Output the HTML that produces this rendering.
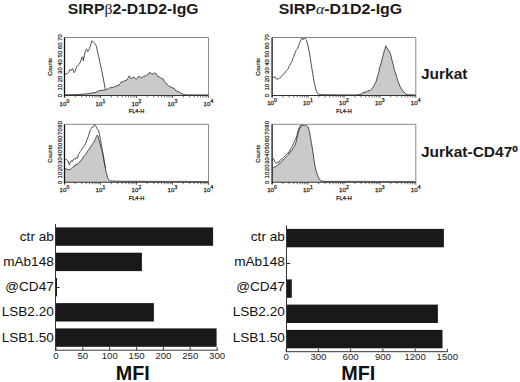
<!DOCTYPE html>
<html><head><meta charset="utf-8"><title>SIRP figure</title>
<style>
html,body{margin:0;padding:0;background:#fff;}
body{width:520px;height:382px;overflow:hidden;}
svg{display:block;}
text{font-family:"Liberation Sans",sans-serif;fill:#1a1a1a;}
.ttl{font-size:15.5px;font-weight:bold;}
.grk{font-weight:normal;}
.lab{font-size:14.5px;font-weight:bold;}
.xl{font-size:6.2px;text-anchor:middle;fill:#222;stroke:#222;stroke-width:0.25px;}
.sup{font-size:5px;}
.fl{font-size:5.6px;text-anchor:middle;fill:#222;stroke:#222;stroke-width:0.25px;}
.yl{font-size:6px;text-anchor:middle;fill:#222;stroke:#222;stroke-width:0.2px;}
.cn{font-size:5.6px;text-anchor:middle;fill:#222;stroke:#222;stroke-width:0.2px;}
.tk{font-size:9px;text-anchor:middle;fill:#222;}
.bl{font-size:12.2px;text-anchor:end;fill:#111;}
.mfi{font-size:20.6px;font-weight:bold;text-anchor:middle;fill:#111;}
</style></head>
<body>
<svg width="520" height="382" viewBox="0 0 520 382">
<text transform="translate(67.7,13.8) scale(1.02,1)" class="ttl">SIRP<tspan class="grk" font-family="Liberation Serif">&#946;</tspan>2-D1D2-IgG</text>
<text transform="translate(278.7,13.8) scale(1.029,1)" class="ttl">SIRP<tspan class="grk" font-family="Liberation Serif" font-style="italic">&#945;</tspan>-D1D2-IgG</text>
<text transform="translate(421,79.2) scale(1.07,1)" class="lab">Jurkat</text>
<text transform="translate(421,156.9) scale(1.07,1)" class="lab">Jurkat-CD47<tspan font-size="9.4px" dy="-4.6" font-weight="bold" stroke="#1a1a1a" stroke-width="0.35">0</tspan></text>
<path d="M64.6,95.5 L64.6,94.6 L65.6,94.6 L66.7,94.6 L67.7,94.6 L68.7,94.6 L69.8,94.6 L70.8,94.6 L71.8,94.6 L72.9,94.6 L73.9,94.6 L74.9,94.6 L76.0,94.6 L77.0,94.6 L78.0,94.5 L79.0,94.5 L80.0,94.4 L81.0,94.3 L82.0,94.2 L83.0,94.2 L84.0,94.1 L85.0,94.0 L86.0,94.0 L87.0,93.7 L88.0,93.9 L89.0,93.6 L90.0,93.4 L91.0,93.1 L92.0,93.0 L93.0,93.1 L94.0,92.5 L95.0,92.6 L96.0,92.3 L97.0,91.7 L98.0,91.5 L99.0,90.6 L100.0,90.3 L101.0,90.2 L102.1,90.6 L103.1,90.1 L104.2,89.8 L105.2,89.9 L106.1,89.4 L107.0,88.9 L107.8,89.2 L108.7,88.7 L109.8,87.8 L111.0,87.8 L112.1,87.3 L113.0,87.5 L113.8,87.1 L114.7,86.3 L115.6,86.9 L116.7,85.4 L117.9,85.4 L119.0,85.4 L119.9,83.7 L120.7,83.1 L121.6,81.5 L122.5,81.9 L123.3,81.6 L124.2,80.9 L125.1,81.0 L125.9,80.0 L126.8,80.1 L127.7,78.7 L128.5,77.3 L129.4,75.8 L130.2,77.5 L131.1,78.7 L132.0,77.9 L132.8,77.8 L133.7,76.8 L134.6,78.0 L135.4,78.4 L136.3,79.3 L137.2,78.3 L138.0,76.9 L138.9,76.3 L139.8,77.2 L140.6,77.0 L141.5,78.2 L142.4,77.2 L143.2,76.5 L144.1,75.9 L145.0,76.5 L145.8,75.4 L146.7,75.3 L147.6,74.7 L148.4,74.5 L149.3,72.8 L150.2,72.4 L151.1,73.2 L151.9,74.3 L152.8,74.0 L153.7,73.8 L154.5,72.9 L155.4,72.9 L156.3,74.0 L157.1,75.7 L158.0,76.9 L158.9,76.6 L159.7,77.2 L160.6,77.9 L161.8,78.3 L163.1,79.0 L164.0,80.9 L164.9,82.2 L165.8,82.8 L166.6,84.1 L167.5,84.6 L168.3,85.5 L169.2,86.5 L170.1,86.7 L170.9,86.9 L171.8,87.4 L172.7,87.9 L173.8,88.0 L175.0,89.9 L176.1,90.6 L177.0,91.3 L177.8,91.8 L178.7,91.8 L179.6,92.4 L180.7,92.9 L181.9,93.7 L183.0,94.3 L183.9,94.4 L184.8,94.5 L185.6,94.7 L186.5,94.8 L187.5,94.8 L188.5,94.8 L189.5,94.8 L190.5,94.8 L191.5,94.8 L192.4,94.8 L193.4,94.8 L194.4,94.8 L195.4,94.8 L196.4,94.8 L197.4,94.8 L198.4,94.9 L199.4,94.9 L200.4,94.9 L201.4,94.9 L202.4,94.9 L203.3,94.9 L204.3,94.9 L205.3,94.9 L206.3,94.9 L207.3,94.9 L208.3,94.9 L208.3,95.5 Z" fill="#cacaca" stroke="none"/>
<polyline points="64.6,94.6 65.6,94.6 66.7,94.6 67.7,94.6 68.7,94.6 69.8,94.6 70.8,94.6 71.8,94.6 72.9,94.6 73.9,94.6 74.9,94.6 76.0,94.6 77.0,94.6 78.0,94.5 79.0,94.5 80.0,94.4 81.0,94.3 82.0,94.2 83.0,94.2 84.0,94.1 85.0,94.0 86.0,94.0 87.0,93.7 88.0,93.9 89.0,93.6 90.0,93.4 91.0,93.1 92.0,93.0 93.0,93.1 94.0,92.5 95.0,92.6 96.0,92.3 97.0,91.7 98.0,91.5 99.0,90.6 100.0,90.3 101.0,90.2 102.1,90.6 103.1,90.1 104.2,89.8 105.2,89.9 106.1,89.4 107.0,88.9 107.8,89.2 108.7,88.7 109.8,87.8 111.0,87.8 112.1,87.3 113.0,87.5 113.8,87.1 114.7,86.3 115.6,86.9 116.7,85.4 117.9,85.4 119.0,85.4 119.9,83.7 120.7,83.1 121.6,81.5 122.5,81.9 123.3,81.6 124.2,80.9 125.1,81.0 125.9,80.0 126.8,80.1 127.7,78.7 128.5,77.3 129.4,75.8 130.2,77.5 131.1,78.7 132.0,77.9 132.8,77.8 133.7,76.8 134.6,78.0 135.4,78.4 136.3,79.3 137.2,78.3 138.0,76.9 138.9,76.3 139.8,77.2 140.6,77.0 141.5,78.2 142.4,77.2 143.2,76.5 144.1,75.9 145.0,76.5 145.8,75.4 146.7,75.3 147.6,74.7 148.4,74.5 149.3,72.8 150.2,72.4 151.1,73.2 151.9,74.3 152.8,74.0 153.7,73.8 154.5,72.9 155.4,72.9 156.3,74.0 157.1,75.7 158.0,76.9 158.9,76.6 159.7,77.2 160.6,77.9 161.8,78.3 163.1,79.0 164.0,80.9 164.9,82.2 165.8,82.8 166.6,84.1 167.5,84.6 168.3,85.5 169.2,86.5 170.1,86.7 170.9,86.9 171.8,87.4 172.7,87.9 173.8,88.0 175.0,89.9 176.1,90.6 177.0,91.3 177.8,91.8 178.7,91.8 179.6,92.4 180.7,92.9 181.9,93.7 183.0,94.3 183.9,94.4 184.8,94.5 185.6,94.7 186.5,94.8 187.5,94.8 188.5,94.8 189.5,94.8 190.5,94.8 191.5,94.8 192.4,94.8 193.4,94.8 194.4,94.8 195.4,94.8 196.4,94.8 197.4,94.8 198.4,94.9 199.4,94.9 200.4,94.9 201.4,94.9 202.4,94.9 203.3,94.9 204.3,94.9 205.3,94.9 206.3,94.9 207.3,94.9 208.3,94.9" fill="none" stroke="#3a3a3a" stroke-width="0.9"/>
<polyline points="64.6,74.5 65.2,74.1 66.3,73.6 67.4,73.7 68.5,72.6 69.6,69.9 70.4,69.7 71.2,70.5 72.1,69.0 72.9,68.8 74.0,72.7 75.1,71.4 75.9,69.0 76.7,66.3 77.6,65.9 78.4,65.1 79.2,64.4 80.0,62.7 80.8,60.6 81.7,57.6 82.8,56.9 83.3,60.9 84.4,55.1 85.5,50.5 86.6,48.8 87.7,51.6 88.6,50.4 89.4,48.7 90.2,46.5 91.0,43.8 92.1,40.7 92.9,41.5 93.8,42.6 94.6,43.2 95.4,44.2 96.5,46.7 97.6,52.2 98.7,56.6 99.6,60.8 100.4,64.9 101.2,68.1 102.0,71.8 103.4,79.0 104.3,84.0 105.3,89.5" fill="none" stroke="#3a3a3a" stroke-width="0.9"/>
<path d="M64.5,37.5 H208.5 V95.5" fill="none" stroke="#8a8a8a" stroke-width="1"/>
<line x1="64.5" y1="95.5" x2="208.5" y2="95.5" stroke="#333" stroke-width="1.1"/>
<line x1="64.5" y1="37.5" x2="64.5" y2="97.3" stroke="#111" stroke-width="1.3"/>
<line x1="75.3" y1="95.5" x2="75.3" y2="97.4" stroke="#333" stroke-width="0.7"/>
<line x1="81.7" y1="95.5" x2="81.7" y2="97.4" stroke="#333" stroke-width="0.7"/>
<line x1="86.2" y1="95.5" x2="86.2" y2="97.4" stroke="#333" stroke-width="0.7"/>
<line x1="89.7" y1="95.5" x2="89.7" y2="97.4" stroke="#333" stroke-width="0.7"/>
<line x1="92.5" y1="95.5" x2="92.5" y2="97.4" stroke="#333" stroke-width="0.7"/>
<line x1="94.9" y1="95.5" x2="94.9" y2="97.4" stroke="#333" stroke-width="0.7"/>
<line x1="97.0" y1="95.5" x2="97.0" y2="97.4" stroke="#333" stroke-width="0.7"/>
<line x1="98.9" y1="95.5" x2="98.9" y2="97.4" stroke="#333" stroke-width="0.7"/>
<line x1="111.3" y1="95.5" x2="111.3" y2="97.4" stroke="#333" stroke-width="0.7"/>
<line x1="117.7" y1="95.5" x2="117.7" y2="97.4" stroke="#333" stroke-width="0.7"/>
<line x1="122.2" y1="95.5" x2="122.2" y2="97.4" stroke="#333" stroke-width="0.7"/>
<line x1="125.7" y1="95.5" x2="125.7" y2="97.4" stroke="#333" stroke-width="0.7"/>
<line x1="128.5" y1="95.5" x2="128.5" y2="97.4" stroke="#333" stroke-width="0.7"/>
<line x1="130.9" y1="95.5" x2="130.9" y2="97.4" stroke="#333" stroke-width="0.7"/>
<line x1="133.0" y1="95.5" x2="133.0" y2="97.4" stroke="#333" stroke-width="0.7"/>
<line x1="134.9" y1="95.5" x2="134.9" y2="97.4" stroke="#333" stroke-width="0.7"/>
<line x1="147.3" y1="95.5" x2="147.3" y2="97.4" stroke="#333" stroke-width="0.7"/>
<line x1="153.7" y1="95.5" x2="153.7" y2="97.4" stroke="#333" stroke-width="0.7"/>
<line x1="158.2" y1="95.5" x2="158.2" y2="97.4" stroke="#333" stroke-width="0.7"/>
<line x1="161.7" y1="95.5" x2="161.7" y2="97.4" stroke="#333" stroke-width="0.7"/>
<line x1="164.5" y1="95.5" x2="164.5" y2="97.4" stroke="#333" stroke-width="0.7"/>
<line x1="166.9" y1="95.5" x2="166.9" y2="97.4" stroke="#333" stroke-width="0.7"/>
<line x1="169.0" y1="95.5" x2="169.0" y2="97.4" stroke="#333" stroke-width="0.7"/>
<line x1="170.9" y1="95.5" x2="170.9" y2="97.4" stroke="#333" stroke-width="0.7"/>
<line x1="183.3" y1="95.5" x2="183.3" y2="97.4" stroke="#333" stroke-width="0.7"/>
<line x1="189.7" y1="95.5" x2="189.7" y2="97.4" stroke="#333" stroke-width="0.7"/>
<line x1="194.2" y1="95.5" x2="194.2" y2="97.4" stroke="#333" stroke-width="0.7"/>
<line x1="197.7" y1="95.5" x2="197.7" y2="97.4" stroke="#333" stroke-width="0.7"/>
<line x1="200.5" y1="95.5" x2="200.5" y2="97.4" stroke="#333" stroke-width="0.7"/>
<line x1="202.9" y1="95.5" x2="202.9" y2="97.4" stroke="#333" stroke-width="0.7"/>
<line x1="205.0" y1="95.5" x2="205.0" y2="97.4" stroke="#333" stroke-width="0.7"/>
<line x1="206.9" y1="95.5" x2="206.9" y2="97.4" stroke="#333" stroke-width="0.7"/>
<line x1="64.5" y1="95.5" x2="64.5" y2="97.9" stroke="#333" stroke-width="0.8"/>
<line x1="100.5" y1="95.5" x2="100.5" y2="97.9" stroke="#333" stroke-width="0.8"/>
<line x1="136.5" y1="95.5" x2="136.5" y2="97.9" stroke="#333" stroke-width="0.8"/>
<line x1="172.5" y1="95.5" x2="172.5" y2="97.9" stroke="#333" stroke-width="0.8"/>
<line x1="208.5" y1="95.5" x2="208.5" y2="97.9" stroke="#333" stroke-width="0.8"/>
<text x="64.4" y="105.8" class="xl">10<tspan class="sup" dy="-2.9">0</tspan></text>
<text x="100.4" y="105.8" class="xl">10<tspan class="sup" dy="-2.9">1</tspan></text>
<text x="136.4" y="105.8" class="xl">10<tspan class="sup" dy="-2.9">2</tspan></text>
<text x="172.4" y="105.8" class="xl">10<tspan class="sup" dy="-2.9">3</tspan></text>
<text x="208.4" y="105.8" class="xl">10<tspan class="sup" dy="-2.9">4</tspan></text>
<text x="136.5" y="112.7" class="fl">FL4-H</text>
<text transform="translate(61.5,95.5) rotate(-90)" class="yl">0</text>
<text transform="translate(61.5,87.2) rotate(-90)" class="yl">10</text>
<text transform="translate(61.5,78.9) rotate(-90)" class="yl">20</text>
<text transform="translate(61.5,70.6) rotate(-90)" class="yl">30</text>
<text transform="translate(61.5,62.4) rotate(-90)" class="yl">40</text>
<text transform="translate(61.5,54.1) rotate(-90)" class="yl">50</text>
<text transform="translate(61.5,45.8) rotate(-90)" class="yl">60</text>
<text transform="translate(61.5,37.5) rotate(-90)" class="yl">70</text>
<text transform="translate(52.0,67.0) rotate(-90)" class="cn">Counts</text>
<path d="M340.0,95.5 L340.0,94.9 L341.0,94.9 L342.0,94.9 L343.0,94.9 L344.0,94.9 L345.0,94.9 L346.0,94.9 L347.0,94.9 L348.0,94.9 L349.0,94.9 L350.0,94.9 L351.0,94.9 L352.0,94.9 L353.0,94.9 L354.0,94.9 L355.0,94.9 L356.0,94.9 L357.0,94.9 L358.0,94.8 L359.0,94.6 L360.0,94.5 L361.0,94.1 L362.0,93.6 L363.0,92.8 L364.0,92.3 L365.1,91.9 L366.1,92.2 L367.1,91.7 L368.0,90.5 L369.0,90.9 L370.1,90.5 L371.1,89.5 L372.2,88.5 L373.2,87.2 L374.2,85.1 L375.2,83.4 L376.1,81.6 L377.0,78.2 L377.8,75.5 L378.5,73.5 L379.8,67.3 L380.6,65.1 L381.3,62.4 L382.1,59.0 L382.8,56.4 L383.6,53.6 L384.3,50.7 L385.1,48.7 L385.8,45.8 L386.6,47.5 L387.5,48.6 L388.2,50.5 L389.0,50.8 L390.4,53.6 L391.2,56.9 L392.0,60.3 L393.1,64.3 L394.2,69.4 L395.4,72.7 L396.5,76.5 L397.6,80.3 L398.8,83.4 L399.8,86.0 L400.8,87.7 L401.8,89.5 L402.8,91.4 L403.7,91.7 L404.7,92.9 L405.6,94.0 L406.8,94.4 L408.0,94.8 L408.9,94.8 L409.9,94.8 L410.8,94.8 L411.8,94.8 L412.7,94.9 L413.6,94.9 L414.6,94.9 L415.5,94.9 L415.5,95.5 Z" fill="#cacaca" stroke="none"/>
<polyline points="340.0,94.9 341.0,94.9 342.0,94.9 343.0,94.9 344.0,94.9 345.0,94.9 346.0,94.9 347.0,94.9 348.0,94.9 349.0,94.9 350.0,94.9 351.0,94.9 352.0,94.9 353.0,94.9 354.0,94.9 355.0,94.9 356.0,94.9 357.0,94.9 358.0,94.8 359.0,94.6 360.0,94.5 361.0,94.1 362.0,93.6 363.0,92.8 364.0,92.3 365.1,91.9 366.1,92.2 367.1,91.7 368.0,90.5 369.0,90.9 370.1,90.5 371.1,89.5 372.2,88.5 373.2,87.2 374.2,85.1 375.2,83.4 376.1,81.6 377.0,78.2 377.8,75.5 378.5,73.5 379.8,67.3 380.6,65.1 381.3,62.4 382.1,59.0 382.8,56.4 383.6,53.6 384.3,50.7 385.1,48.7 385.8,45.8 386.6,47.5 387.5,48.6 388.2,50.5 389.0,50.8 390.4,53.6 391.2,56.9 392.0,60.3 393.1,64.3 394.2,69.4 395.4,72.7 396.5,76.5 397.6,80.3 398.8,83.4 399.8,86.0 400.8,87.7 401.8,89.5 402.8,91.4 403.7,91.7 404.7,92.9 405.6,94.0 406.8,94.4 408.0,94.8 408.9,94.8 409.9,94.8 410.8,94.8 411.8,94.8 412.7,94.9 413.6,94.9 414.6,94.9 415.5,94.9" fill="none" stroke="#3a3a3a" stroke-width="0.9"/>
<polyline points="272.6,77.7 273.8,77.5 274.9,76.6 276.0,78.6 277.1,79.0 278.1,79.3 279.2,78.2 280.4,77.8 281.2,76.5 282.0,75.3 282.8,75.1 283.6,74.4 284.4,73.4 285.2,72.2 285.9,71.5 286.7,70.0 287.5,69.5 288.3,68.7 289.1,66.4 289.9,65.2 290.7,63.2 291.4,62.4 292.2,60.8 293.0,58.3 293.8,56.3 294.6,53.9 295.4,52.2 296.1,50.4 296.9,49.6 297.7,48.1 298.5,46.7 299.3,43.4 300.1,41.8 300.9,40.1 301.7,38.0 302.4,38.1 303.5,39.7 304.8,37.0 305.6,39.1 306.4,39.8 307.2,42.6 308.0,46.0 308.8,49.7 309.5,52.9 310.3,58.3 311.1,63.5 311.9,68.4 312.7,73.3 313.4,77.8 314.2,82.7 315.0,85.4 315.8,89.6 316.6,91.4 317.4,93.2 318.2,94.0 319.0,94.7 320.0,94.7 321.0,94.7 322.0,94.7 323.0,94.7 324.0,94.7 325.0,94.8 326.0,94.8 327.0,94.8 328.0,94.8 329.0,94.8 330.0,94.8 331.0,94.8 332.0,94.8 333.0,94.8 334.0,94.8 335.0,94.9 336.0,94.9 337.0,94.9 338.0,94.9 339.0,94.9 340.0,94.9" fill="none" stroke="#3a3a3a" stroke-width="0.9"/>
<path d="M272.1,37.5 H415.8 V95.5" fill="none" stroke="#8a8a8a" stroke-width="1"/>
<line x1="272.1" y1="95.5" x2="415.8" y2="95.5" stroke="#333" stroke-width="1.1"/>
<line x1="272.1" y1="37.5" x2="272.1" y2="97.3" stroke="#111" stroke-width="1.3"/>
<line x1="282.9" y1="95.5" x2="282.9" y2="97.4" stroke="#333" stroke-width="0.7"/>
<line x1="289.2" y1="95.5" x2="289.2" y2="97.4" stroke="#333" stroke-width="0.7"/>
<line x1="293.7" y1="95.5" x2="293.7" y2="97.4" stroke="#333" stroke-width="0.7"/>
<line x1="297.2" y1="95.5" x2="297.2" y2="97.4" stroke="#333" stroke-width="0.7"/>
<line x1="300.1" y1="95.5" x2="300.1" y2="97.4" stroke="#333" stroke-width="0.7"/>
<line x1="302.5" y1="95.5" x2="302.5" y2="97.4" stroke="#333" stroke-width="0.7"/>
<line x1="304.5" y1="95.5" x2="304.5" y2="97.4" stroke="#333" stroke-width="0.7"/>
<line x1="306.4" y1="95.5" x2="306.4" y2="97.4" stroke="#333" stroke-width="0.7"/>
<line x1="318.8" y1="95.5" x2="318.8" y2="97.4" stroke="#333" stroke-width="0.7"/>
<line x1="325.2" y1="95.5" x2="325.2" y2="97.4" stroke="#333" stroke-width="0.7"/>
<line x1="329.7" y1="95.5" x2="329.7" y2="97.4" stroke="#333" stroke-width="0.7"/>
<line x1="333.1" y1="95.5" x2="333.1" y2="97.4" stroke="#333" stroke-width="0.7"/>
<line x1="336.0" y1="95.5" x2="336.0" y2="97.4" stroke="#333" stroke-width="0.7"/>
<line x1="338.4" y1="95.5" x2="338.4" y2="97.4" stroke="#333" stroke-width="0.7"/>
<line x1="340.5" y1="95.5" x2="340.5" y2="97.4" stroke="#333" stroke-width="0.7"/>
<line x1="342.3" y1="95.5" x2="342.3" y2="97.4" stroke="#333" stroke-width="0.7"/>
<line x1="354.8" y1="95.5" x2="354.8" y2="97.4" stroke="#333" stroke-width="0.7"/>
<line x1="361.1" y1="95.5" x2="361.1" y2="97.4" stroke="#333" stroke-width="0.7"/>
<line x1="365.6" y1="95.5" x2="365.6" y2="97.4" stroke="#333" stroke-width="0.7"/>
<line x1="369.1" y1="95.5" x2="369.1" y2="97.4" stroke="#333" stroke-width="0.7"/>
<line x1="371.9" y1="95.5" x2="371.9" y2="97.4" stroke="#333" stroke-width="0.7"/>
<line x1="374.3" y1="95.5" x2="374.3" y2="97.4" stroke="#333" stroke-width="0.7"/>
<line x1="376.4" y1="95.5" x2="376.4" y2="97.4" stroke="#333" stroke-width="0.7"/>
<line x1="378.2" y1="95.5" x2="378.2" y2="97.4" stroke="#333" stroke-width="0.7"/>
<line x1="390.7" y1="95.5" x2="390.7" y2="97.4" stroke="#333" stroke-width="0.7"/>
<line x1="397.0" y1="95.5" x2="397.0" y2="97.4" stroke="#333" stroke-width="0.7"/>
<line x1="401.5" y1="95.5" x2="401.5" y2="97.4" stroke="#333" stroke-width="0.7"/>
<line x1="405.0" y1="95.5" x2="405.0" y2="97.4" stroke="#333" stroke-width="0.7"/>
<line x1="407.8" y1="95.5" x2="407.8" y2="97.4" stroke="#333" stroke-width="0.7"/>
<line x1="410.2" y1="95.5" x2="410.2" y2="97.4" stroke="#333" stroke-width="0.7"/>
<line x1="412.3" y1="95.5" x2="412.3" y2="97.4" stroke="#333" stroke-width="0.7"/>
<line x1="414.2" y1="95.5" x2="414.2" y2="97.4" stroke="#333" stroke-width="0.7"/>
<line x1="272.1" y1="95.5" x2="272.1" y2="97.9" stroke="#333" stroke-width="0.8"/>
<line x1="308.0" y1="95.5" x2="308.0" y2="97.9" stroke="#333" stroke-width="0.8"/>
<line x1="344.0" y1="95.5" x2="344.0" y2="97.9" stroke="#333" stroke-width="0.8"/>
<line x1="379.9" y1="95.5" x2="379.9" y2="97.9" stroke="#333" stroke-width="0.8"/>
<line x1="415.8" y1="95.5" x2="415.8" y2="97.9" stroke="#333" stroke-width="0.8"/>
<text x="272.0" y="104.9" class="xl">10<tspan class="sup" dy="-2.9">0</tspan></text>
<text x="307.9" y="104.9" class="xl">10<tspan class="sup" dy="-2.9">1</tspan></text>
<text x="343.9" y="104.9" class="xl">10<tspan class="sup" dy="-2.9">2</tspan></text>
<text x="379.8" y="104.9" class="xl">10<tspan class="sup" dy="-2.9">3</tspan></text>
<text x="415.7" y="104.9" class="xl">10<tspan class="sup" dy="-2.9">4</tspan></text>
<text x="344.0" y="112.7" class="fl">FL4-H</text>
<text transform="translate(269.1,95.5) rotate(-90)" class="yl">0</text>
<text transform="translate(269.1,87.2) rotate(-90)" class="yl">10</text>
<text transform="translate(269.1,78.9) rotate(-90)" class="yl">20</text>
<text transform="translate(269.1,70.6) rotate(-90)" class="yl">30</text>
<text transform="translate(269.1,62.4) rotate(-90)" class="yl">40</text>
<text transform="translate(269.1,54.1) rotate(-90)" class="yl">50</text>
<text transform="translate(269.1,45.8) rotate(-90)" class="yl">60</text>
<text transform="translate(269.1,37.5) rotate(-90)" class="yl">70</text>
<text transform="translate(259.6,67.0) rotate(-90)" class="cn">Counts</text>
<path d="M65.2,182.3 L65.2,168.5 L66.2,168.5 L67.2,169.8 L68.0,169.7 L68.7,169.4 L70.1,169.7 L71.5,168.3 L72.9,167.5 L74.3,165.5 L75.2,165.7 L76.1,164.1 L77.5,164.3 L78.9,162.7 L80.3,161.3 L81.3,160.1 L82.3,159.0 L83.4,157.0 L84.6,155.6 L85.8,154.3 L87.0,152.2 L88.2,150.4 L89.3,148.9 L90.3,147.3 L91.3,145.9 L92.1,144.6 L92.9,143.2 L93.8,142.3 L94.8,140.3 L95.6,138.7 L96.4,136.4 L97.2,135.1 L98.0,135.9 L98.9,139.6 L99.9,143.3 L100.7,146.6 L101.4,148.9 L102.2,151.4 L102.9,154.8 L104.2,162.0 L105.1,165.8 L105.9,171.4 L106.8,174.3 L107.6,177.8 L108.8,179.6 L110.1,180.9 L111.1,180.9 L112.1,181.0 L113.1,181.1 L114.1,181.0 L115.0,181.1 L116.0,181.2 L117.0,181.2 L118.0,181.2 L119.0,181.3 L120.0,181.3 L121.0,181.3 L122.0,181.3 L123.0,181.3 L124.0,181.3 L125.0,181.3 L126.0,181.3 L127.0,181.3 L128.0,181.3 L129.0,181.3 L130.0,181.3 L131.0,181.3 L132.0,181.3 L133.0,181.3 L134.0,181.3 L135.1,181.3 L136.1,181.3 L137.1,181.3 L138.1,181.3 L139.1,181.3 L140.1,181.3 L141.1,181.3 L142.1,181.4 L143.1,181.4 L144.1,181.4 L145.1,181.4 L146.1,181.4 L147.1,181.4 L148.1,181.4 L149.1,181.4 L150.1,181.4 L151.1,181.4 L152.1,181.4 L153.1,181.4 L154.1,181.4 L155.1,181.4 L156.1,181.4 L157.1,181.4 L158.1,181.4 L159.1,181.4 L160.1,181.4 L161.1,181.4 L162.1,181.4 L163.1,181.4 L164.2,181.4 L165.2,181.4 L166.2,181.4 L167.2,181.4 L168.2,181.4 L169.2,181.4 L170.2,181.4 L171.2,181.4 L172.2,181.4 L173.2,181.4 L174.2,181.4 L175.2,181.4 L176.2,181.4 L177.2,181.4 L178.2,181.4 L179.2,181.4 L180.2,181.4 L181.2,181.4 L182.2,181.4 L183.2,181.4 L184.2,181.4 L185.2,181.4 L186.2,181.4 L187.2,181.5 L188.2,181.5 L189.2,181.5 L190.2,181.5 L191.2,181.5 L192.2,181.5 L193.2,181.5 L194.3,181.5 L195.3,181.5 L196.3,181.5 L197.3,181.5 L198.3,181.5 L199.3,181.5 L200.3,181.5 L201.3,181.5 L202.3,181.5 L203.3,181.5 L204.3,181.5 L205.3,181.5 L206.3,181.5 L207.3,181.5 L208.3,181.5 L208.3,182.3 Z" fill="#cacaca" stroke="none"/>
<polyline points="65.2,168.5 66.2,168.5 67.2,169.8 68.0,169.7 68.7,169.4 70.1,169.7 71.5,168.3 72.9,167.5 74.3,165.5 75.2,165.7 76.1,164.1 77.5,164.3 78.9,162.7 80.3,161.3 81.3,160.1 82.3,159.0 83.4,157.0 84.6,155.6 85.8,154.3 87.0,152.2 88.2,150.4 89.3,148.9 90.3,147.3 91.3,145.9 92.1,144.6 92.9,143.2 93.8,142.3 94.8,140.3 95.6,138.7 96.4,136.4 97.2,135.1 98.0,135.9 98.9,139.6 99.9,143.3 100.7,146.6 101.4,148.9 102.2,151.4 102.9,154.8 104.2,162.0 105.1,165.8 105.9,171.4 106.8,174.3 107.6,177.8 108.8,179.6 110.1,180.9 111.1,180.9 112.1,181.0 113.1,181.1 114.1,181.0 115.0,181.1 116.0,181.2 117.0,181.2 118.0,181.2 119.0,181.3 120.0,181.3 121.0,181.3 122.0,181.3 123.0,181.3 124.0,181.3 125.0,181.3 126.0,181.3 127.0,181.3 128.0,181.3 129.0,181.3 130.0,181.3 131.0,181.3 132.0,181.3 133.0,181.3 134.0,181.3 135.1,181.3 136.1,181.3 137.1,181.3 138.1,181.3 139.1,181.3 140.1,181.3 141.1,181.3 142.1,181.4 143.1,181.4 144.1,181.4 145.1,181.4 146.1,181.4 147.1,181.4 148.1,181.4 149.1,181.4 150.1,181.4 151.1,181.4 152.1,181.4 153.1,181.4 154.1,181.4 155.1,181.4 156.1,181.4 157.1,181.4 158.1,181.4 159.1,181.4 160.1,181.4 161.1,181.4 162.1,181.4 163.1,181.4 164.2,181.4 165.2,181.4 166.2,181.4 167.2,181.4 168.2,181.4 169.2,181.4 170.2,181.4 171.2,181.4 172.2,181.4 173.2,181.4 174.2,181.4 175.2,181.4 176.2,181.4 177.2,181.4 178.2,181.4 179.2,181.4 180.2,181.4 181.2,181.4 182.2,181.4 183.2,181.4 184.2,181.4 185.2,181.4 186.2,181.4 187.2,181.5 188.2,181.5 189.2,181.5 190.2,181.5 191.2,181.5 192.2,181.5 193.2,181.5 194.3,181.5 195.3,181.5 196.3,181.5 197.3,181.5 198.3,181.5 199.3,181.5 200.3,181.5 201.3,181.5 202.3,181.5 203.3,181.5 204.3,181.5 205.3,181.5 206.3,181.5 207.3,181.5 208.3,181.5" fill="none" stroke="#3a3a3a" stroke-width="0.9"/>
<polyline points="65.2,159.7 66.5,159.6 67.6,160.7 68.7,163.1 69.5,164.9 70.4,161.8 71.3,160.6 72.2,161.8 73.2,159.9 74.3,158.5 75.4,159.4 76.4,157.4 77.1,158.1 77.8,157.8 78.4,154.3 79.3,153.3 80.3,151.3 81.3,150.4 82.3,148.5 83.0,147.4 83.8,146.5 84.6,145.4 85.4,143.8 86.2,141.9 87.0,139.4 87.8,137.8 88.5,135.8 89.4,132.9 90.4,129.5 91.4,128.5 92.2,127.1 92.9,127.6 93.7,126.3 94.4,123.9 95.2,125.2 95.9,126.4 96.7,128.1 97.4,128.9 98.4,130.7 99.4,133.6 100.4,139.4 101.4,144.6 102.4,150.9 103.4,155.4 104.2,161.5 105.3,167.5" fill="none" stroke="#3a3a3a" stroke-width="0.9"/>
<path d="M64.5,124.3 H208.5 V182.3" fill="none" stroke="#8a8a8a" stroke-width="1"/>
<line x1="64.5" y1="182.3" x2="208.5" y2="182.3" stroke="#333" stroke-width="1.1"/>
<line x1="64.5" y1="124.3" x2="64.5" y2="184.1" stroke="#111" stroke-width="1.3"/>
<line x1="75.3" y1="182.3" x2="75.3" y2="184.2" stroke="#333" stroke-width="0.7"/>
<line x1="81.7" y1="182.3" x2="81.7" y2="184.2" stroke="#333" stroke-width="0.7"/>
<line x1="86.2" y1="182.3" x2="86.2" y2="184.2" stroke="#333" stroke-width="0.7"/>
<line x1="89.7" y1="182.3" x2="89.7" y2="184.2" stroke="#333" stroke-width="0.7"/>
<line x1="92.5" y1="182.3" x2="92.5" y2="184.2" stroke="#333" stroke-width="0.7"/>
<line x1="94.9" y1="182.3" x2="94.9" y2="184.2" stroke="#333" stroke-width="0.7"/>
<line x1="97.0" y1="182.3" x2="97.0" y2="184.2" stroke="#333" stroke-width="0.7"/>
<line x1="98.9" y1="182.3" x2="98.9" y2="184.2" stroke="#333" stroke-width="0.7"/>
<line x1="111.3" y1="182.3" x2="111.3" y2="184.2" stroke="#333" stroke-width="0.7"/>
<line x1="117.7" y1="182.3" x2="117.7" y2="184.2" stroke="#333" stroke-width="0.7"/>
<line x1="122.2" y1="182.3" x2="122.2" y2="184.2" stroke="#333" stroke-width="0.7"/>
<line x1="125.7" y1="182.3" x2="125.7" y2="184.2" stroke="#333" stroke-width="0.7"/>
<line x1="128.5" y1="182.3" x2="128.5" y2="184.2" stroke="#333" stroke-width="0.7"/>
<line x1="130.9" y1="182.3" x2="130.9" y2="184.2" stroke="#333" stroke-width="0.7"/>
<line x1="133.0" y1="182.3" x2="133.0" y2="184.2" stroke="#333" stroke-width="0.7"/>
<line x1="134.9" y1="182.3" x2="134.9" y2="184.2" stroke="#333" stroke-width="0.7"/>
<line x1="147.3" y1="182.3" x2="147.3" y2="184.2" stroke="#333" stroke-width="0.7"/>
<line x1="153.7" y1="182.3" x2="153.7" y2="184.2" stroke="#333" stroke-width="0.7"/>
<line x1="158.2" y1="182.3" x2="158.2" y2="184.2" stroke="#333" stroke-width="0.7"/>
<line x1="161.7" y1="182.3" x2="161.7" y2="184.2" stroke="#333" stroke-width="0.7"/>
<line x1="164.5" y1="182.3" x2="164.5" y2="184.2" stroke="#333" stroke-width="0.7"/>
<line x1="166.9" y1="182.3" x2="166.9" y2="184.2" stroke="#333" stroke-width="0.7"/>
<line x1="169.0" y1="182.3" x2="169.0" y2="184.2" stroke="#333" stroke-width="0.7"/>
<line x1="170.9" y1="182.3" x2="170.9" y2="184.2" stroke="#333" stroke-width="0.7"/>
<line x1="183.3" y1="182.3" x2="183.3" y2="184.2" stroke="#333" stroke-width="0.7"/>
<line x1="189.7" y1="182.3" x2="189.7" y2="184.2" stroke="#333" stroke-width="0.7"/>
<line x1="194.2" y1="182.3" x2="194.2" y2="184.2" stroke="#333" stroke-width="0.7"/>
<line x1="197.7" y1="182.3" x2="197.7" y2="184.2" stroke="#333" stroke-width="0.7"/>
<line x1="200.5" y1="182.3" x2="200.5" y2="184.2" stroke="#333" stroke-width="0.7"/>
<line x1="202.9" y1="182.3" x2="202.9" y2="184.2" stroke="#333" stroke-width="0.7"/>
<line x1="205.0" y1="182.3" x2="205.0" y2="184.2" stroke="#333" stroke-width="0.7"/>
<line x1="206.9" y1="182.3" x2="206.9" y2="184.2" stroke="#333" stroke-width="0.7"/>
<line x1="64.5" y1="182.3" x2="64.5" y2="184.7" stroke="#333" stroke-width="0.8"/>
<line x1="100.5" y1="182.3" x2="100.5" y2="184.7" stroke="#333" stroke-width="0.8"/>
<line x1="136.5" y1="182.3" x2="136.5" y2="184.7" stroke="#333" stroke-width="0.8"/>
<line x1="172.5" y1="182.3" x2="172.5" y2="184.7" stroke="#333" stroke-width="0.8"/>
<line x1="208.5" y1="182.3" x2="208.5" y2="184.7" stroke="#333" stroke-width="0.8"/>
<text x="64.4" y="191.5" class="xl">10<tspan class="sup" dy="-2.9">0</tspan></text>
<text x="100.4" y="191.5" class="xl">10<tspan class="sup" dy="-2.9">1</tspan></text>
<text x="136.4" y="191.5" class="xl">10<tspan class="sup" dy="-2.9">2</tspan></text>
<text x="172.4" y="191.5" class="xl">10<tspan class="sup" dy="-2.9">3</tspan></text>
<text x="208.4" y="191.5" class="xl">10<tspan class="sup" dy="-2.9">4</tspan></text>
<text x="136.5" y="199.5" class="fl">FL4-H</text>
<text transform="translate(61.5,182.3) rotate(-90)" class="yl">0</text>
<text transform="translate(61.5,175.1) rotate(-90)" class="yl">10</text>
<text transform="translate(61.5,167.8) rotate(-90)" class="yl">20</text>
<text transform="translate(61.5,160.6) rotate(-90)" class="yl">30</text>
<text transform="translate(61.5,153.3) rotate(-90)" class="yl">40</text>
<text transform="translate(61.5,146.1) rotate(-90)" class="yl">50</text>
<text transform="translate(61.5,138.8) rotate(-90)" class="yl">60</text>
<text transform="translate(61.5,131.6) rotate(-90)" class="yl">70</text>
<text transform="translate(61.5,124.3) rotate(-90)" class="yl">80</text>
<text transform="translate(52.0,153.8) rotate(-90)" class="cn">Counts</text>
<path d="M272.6,182.3 L272.6,167.9 L273.5,168.0 L274.4,166.6 L275.4,166.9 L276.3,166.0 L277.2,165.7 L278.1,164.7 L279.0,163.6 L279.9,163.8 L280.9,162.4 L281.8,161.0 L282.7,160.1 L283.6,159.8 L284.5,158.7 L285.4,157.6 L286.4,156.5 L287.3,155.8 L288.2,154.6 L289.1,154.1 L290.0,151.9 L290.9,151.5 L291.9,150.3 L292.8,148.0 L293.6,147.5 L294.5,145.8 L295.8,143.0 L297.0,138.2 L298.2,133.3 L299.5,128.9 L300.4,128.0 L301.2,125.9 L302.2,125.1 L303.3,124.7 L304.4,125.3 L305.4,125.8 L306.2,125.5 L307.1,126.0 L308.0,126.8 L308.8,129.0 L309.4,131.2 L310.5,137.7 L311.5,143.5 L312.7,150.6 L313.8,158.8 L315.0,166.0 L316.2,171.2 L317.4,174.9 L318.5,177.5 L319.6,179.5 L320.8,181.0 L321.9,181.1 L322.9,181.2 L324.0,181.4 L325.0,181.4 L326.0,181.4 L327.0,181.4 L328.0,181.4 L329.0,181.4 L330.0,181.4 L331.0,181.4 L332.0,181.4 L333.0,181.4 L333.9,181.4 L334.9,181.4 L335.9,181.4 L336.9,181.4 L337.9,181.4 L338.9,181.4 L339.9,181.4 L340.9,181.4 L341.9,181.4 L342.9,181.4 L343.9,181.4 L344.9,181.4 L345.9,181.4 L346.9,181.4 L347.9,181.4 L348.9,181.4 L349.9,181.4 L350.9,181.4 L351.8,181.4 L352.8,181.4 L353.8,181.4 L354.8,181.4 L355.8,181.4 L356.8,181.4 L357.8,181.4 L358.8,181.4 L359.8,181.4 L360.8,181.4 L361.8,181.4 L362.8,181.4 L363.8,181.4 L364.8,181.4 L365.8,181.4 L366.8,181.4 L367.8,181.4 L368.8,181.4 L369.8,181.4 L370.7,181.5 L371.7,181.5 L372.7,181.5 L373.7,181.5 L374.7,181.5 L375.7,181.5 L376.7,181.5 L377.7,181.5 L378.7,181.5 L379.7,181.5 L380.7,181.5 L381.7,181.5 L382.7,181.5 L383.7,181.5 L384.7,181.5 L385.7,181.5 L386.7,181.5 L387.7,181.5 L388.6,181.5 L389.6,181.5 L390.6,181.5 L391.6,181.5 L392.6,181.5 L393.6,181.5 L394.6,181.5 L395.6,181.5 L396.6,181.5 L397.6,181.5 L398.6,181.5 L399.6,181.5 L400.6,181.5 L401.6,181.5 L402.6,181.5 L403.6,181.5 L404.6,181.5 L405.6,181.5 L406.5,181.5 L407.5,181.5 L408.5,181.5 L409.5,181.5 L410.5,181.5 L411.5,181.5 L412.5,181.5 L413.5,181.5 L414.5,181.5 L415.5,181.5 L415.5,182.3 Z" fill="#cacaca" stroke="none"/>
<polyline points="272.6,167.9 273.5,168.0 274.4,166.6 275.4,166.9 276.3,166.0 277.2,165.7 278.1,164.7 279.0,163.6 279.9,163.8 280.9,162.4 281.8,161.0 282.7,160.1 283.6,159.8 284.5,158.7 285.4,157.6 286.4,156.5 287.3,155.8 288.2,154.6 289.1,154.1 290.0,151.9 290.9,151.5 291.9,150.3 292.8,148.0 293.6,147.5 294.5,145.8 295.8,143.0 297.0,138.2 298.2,133.3 299.5,128.9 300.4,128.0 301.2,125.9 302.2,125.1 303.3,124.7 304.4,125.3 305.4,125.8 306.2,125.5 307.1,126.0 308.0,126.8 308.8,129.0 309.4,131.2 310.5,137.7 311.5,143.5 312.7,150.6 313.8,158.8 315.0,166.0 316.2,171.2 317.4,174.9 318.5,177.5 319.6,179.5 320.8,181.0 321.9,181.1 322.9,181.2 324.0,181.4 325.0,181.4 326.0,181.4 327.0,181.4 328.0,181.4 329.0,181.4 330.0,181.4 331.0,181.4 332.0,181.4 333.0,181.4 333.9,181.4 334.9,181.4 335.9,181.4 336.9,181.4 337.9,181.4 338.9,181.4 339.9,181.4 340.9,181.4 341.9,181.4 342.9,181.4 343.9,181.4 344.9,181.4 345.9,181.4 346.9,181.4 347.9,181.4 348.9,181.4 349.9,181.4 350.9,181.4 351.8,181.4 352.8,181.4 353.8,181.4 354.8,181.4 355.8,181.4 356.8,181.4 357.8,181.4 358.8,181.4 359.8,181.4 360.8,181.4 361.8,181.4 362.8,181.4 363.8,181.4 364.8,181.4 365.8,181.4 366.8,181.4 367.8,181.4 368.8,181.4 369.8,181.4 370.7,181.5 371.7,181.5 372.7,181.5 373.7,181.5 374.7,181.5 375.7,181.5 376.7,181.5 377.7,181.5 378.7,181.5 379.7,181.5 380.7,181.5 381.7,181.5 382.7,181.5 383.7,181.5 384.7,181.5 385.7,181.5 386.7,181.5 387.7,181.5 388.6,181.5 389.6,181.5 390.6,181.5 391.6,181.5 392.6,181.5 393.6,181.5 394.6,181.5 395.6,181.5 396.6,181.5 397.6,181.5 398.6,181.5 399.6,181.5 400.6,181.5 401.6,181.5 402.6,181.5 403.6,181.5 404.6,181.5 405.6,181.5 406.5,181.5 407.5,181.5 408.5,181.5 409.5,181.5 410.5,181.5 411.5,181.5 412.5,181.5 413.5,181.5 414.5,181.5 415.5,181.5" fill="none" stroke="#3a3a3a" stroke-width="0.9"/>
<polyline points="272.6,159.5 273.5,158.7 274.9,161.9 276.3,163.6 277.2,162.4 278.1,162.0 279.0,162.3 279.9,160.4 280.8,159.6 281.8,158.9 282.7,158.6 283.6,157.3 284.5,156.7 285.4,155.4 286.3,154.3 287.2,153.4 288.2,153.4 289.1,151.9 290.0,150.3 290.8,148.4 291.5,147.5 292.5,145.7 293.5,143.4 294.5,141.2 295.5,139.7 296.8,136.0 298.1,130.5 299.4,126.8 300.2,126.0 301.0,124.9 301.8,125.0 302.5,124.2 303.2,125.4 304.0,125.4" fill="none" stroke="#3a3a3a" stroke-width="0.9"/>
<path d="M272.1,124.3 H415.8 V182.3" fill="none" stroke="#8a8a8a" stroke-width="1"/>
<line x1="272.1" y1="182.3" x2="415.8" y2="182.3" stroke="#333" stroke-width="1.1"/>
<line x1="272.1" y1="124.3" x2="272.1" y2="184.1" stroke="#111" stroke-width="1.3"/>
<line x1="282.9" y1="182.3" x2="282.9" y2="184.2" stroke="#333" stroke-width="0.7"/>
<line x1="289.2" y1="182.3" x2="289.2" y2="184.2" stroke="#333" stroke-width="0.7"/>
<line x1="293.7" y1="182.3" x2="293.7" y2="184.2" stroke="#333" stroke-width="0.7"/>
<line x1="297.2" y1="182.3" x2="297.2" y2="184.2" stroke="#333" stroke-width="0.7"/>
<line x1="300.1" y1="182.3" x2="300.1" y2="184.2" stroke="#333" stroke-width="0.7"/>
<line x1="302.5" y1="182.3" x2="302.5" y2="184.2" stroke="#333" stroke-width="0.7"/>
<line x1="304.5" y1="182.3" x2="304.5" y2="184.2" stroke="#333" stroke-width="0.7"/>
<line x1="306.4" y1="182.3" x2="306.4" y2="184.2" stroke="#333" stroke-width="0.7"/>
<line x1="318.8" y1="182.3" x2="318.8" y2="184.2" stroke="#333" stroke-width="0.7"/>
<line x1="325.2" y1="182.3" x2="325.2" y2="184.2" stroke="#333" stroke-width="0.7"/>
<line x1="329.7" y1="182.3" x2="329.7" y2="184.2" stroke="#333" stroke-width="0.7"/>
<line x1="333.1" y1="182.3" x2="333.1" y2="184.2" stroke="#333" stroke-width="0.7"/>
<line x1="336.0" y1="182.3" x2="336.0" y2="184.2" stroke="#333" stroke-width="0.7"/>
<line x1="338.4" y1="182.3" x2="338.4" y2="184.2" stroke="#333" stroke-width="0.7"/>
<line x1="340.5" y1="182.3" x2="340.5" y2="184.2" stroke="#333" stroke-width="0.7"/>
<line x1="342.3" y1="182.3" x2="342.3" y2="184.2" stroke="#333" stroke-width="0.7"/>
<line x1="354.8" y1="182.3" x2="354.8" y2="184.2" stroke="#333" stroke-width="0.7"/>
<line x1="361.1" y1="182.3" x2="361.1" y2="184.2" stroke="#333" stroke-width="0.7"/>
<line x1="365.6" y1="182.3" x2="365.6" y2="184.2" stroke="#333" stroke-width="0.7"/>
<line x1="369.1" y1="182.3" x2="369.1" y2="184.2" stroke="#333" stroke-width="0.7"/>
<line x1="371.9" y1="182.3" x2="371.9" y2="184.2" stroke="#333" stroke-width="0.7"/>
<line x1="374.3" y1="182.3" x2="374.3" y2="184.2" stroke="#333" stroke-width="0.7"/>
<line x1="376.4" y1="182.3" x2="376.4" y2="184.2" stroke="#333" stroke-width="0.7"/>
<line x1="378.2" y1="182.3" x2="378.2" y2="184.2" stroke="#333" stroke-width="0.7"/>
<line x1="390.7" y1="182.3" x2="390.7" y2="184.2" stroke="#333" stroke-width="0.7"/>
<line x1="397.0" y1="182.3" x2="397.0" y2="184.2" stroke="#333" stroke-width="0.7"/>
<line x1="401.5" y1="182.3" x2="401.5" y2="184.2" stroke="#333" stroke-width="0.7"/>
<line x1="405.0" y1="182.3" x2="405.0" y2="184.2" stroke="#333" stroke-width="0.7"/>
<line x1="407.8" y1="182.3" x2="407.8" y2="184.2" stroke="#333" stroke-width="0.7"/>
<line x1="410.2" y1="182.3" x2="410.2" y2="184.2" stroke="#333" stroke-width="0.7"/>
<line x1="412.3" y1="182.3" x2="412.3" y2="184.2" stroke="#333" stroke-width="0.7"/>
<line x1="414.2" y1="182.3" x2="414.2" y2="184.2" stroke="#333" stroke-width="0.7"/>
<line x1="272.1" y1="182.3" x2="272.1" y2="184.7" stroke="#333" stroke-width="0.8"/>
<line x1="308.0" y1="182.3" x2="308.0" y2="184.7" stroke="#333" stroke-width="0.8"/>
<line x1="344.0" y1="182.3" x2="344.0" y2="184.7" stroke="#333" stroke-width="0.8"/>
<line x1="379.9" y1="182.3" x2="379.9" y2="184.7" stroke="#333" stroke-width="0.8"/>
<line x1="415.8" y1="182.3" x2="415.8" y2="184.7" stroke="#333" stroke-width="0.8"/>
<text x="272.0" y="191.5" class="xl">10<tspan class="sup" dy="-2.9">0</tspan></text>
<text x="307.9" y="191.5" class="xl">10<tspan class="sup" dy="-2.9">1</tspan></text>
<text x="343.9" y="191.5" class="xl">10<tspan class="sup" dy="-2.9">2</tspan></text>
<text x="379.8" y="191.5" class="xl">10<tspan class="sup" dy="-2.9">3</tspan></text>
<text x="415.7" y="191.5" class="xl">10<tspan class="sup" dy="-2.9">4</tspan></text>
<text x="344.0" y="199.5" class="fl">FL4-H</text>
<text transform="translate(269.1,182.3) rotate(-90)" class="yl">0</text>
<text transform="translate(269.1,175.1) rotate(-90)" class="yl">10</text>
<text transform="translate(269.1,167.8) rotate(-90)" class="yl">20</text>
<text transform="translate(269.1,160.6) rotate(-90)" class="yl">30</text>
<text transform="translate(269.1,153.3) rotate(-90)" class="yl">40</text>
<text transform="translate(269.1,146.1) rotate(-90)" class="yl">50</text>
<text transform="translate(269.1,138.8) rotate(-90)" class="yl">60</text>
<text transform="translate(269.1,131.6) rotate(-90)" class="yl">70</text>
<text transform="translate(269.1,124.3) rotate(-90)" class="yl">80</text>
<text transform="translate(259.6,153.8) rotate(-90)" class="cn">Counts</text>
<line x1="55.5" y1="224.0" x2="55.5" y2="350.7" stroke="#333" stroke-width="1"/>
<line x1="55.0" y1="350.2" x2="217.6" y2="350.2" stroke="#333" stroke-width="1"/>
<line x1="56.0" y1="350.2" x2="56.0" y2="347.2" stroke="#333" stroke-width="1"/>
<text transform="translate(56.0,358.8) scale(1.07,1)" class="tk">0</text>
<line x1="82.8" y1="350.2" x2="82.8" y2="347.2" stroke="#333" stroke-width="1"/>
<text transform="translate(82.8,358.8) scale(1.07,1)" class="tk">50</text>
<line x1="109.7" y1="350.2" x2="109.7" y2="347.2" stroke="#333" stroke-width="1"/>
<text transform="translate(109.7,358.8) scale(1.07,1)" class="tk">100</text>
<line x1="136.6" y1="350.2" x2="136.6" y2="347.2" stroke="#333" stroke-width="1"/>
<text transform="translate(136.6,358.8) scale(1.07,1)" class="tk">150</text>
<line x1="163.4" y1="350.2" x2="163.4" y2="347.2" stroke="#333" stroke-width="1"/>
<text transform="translate(163.4,358.8) scale(1.07,1)" class="tk">200</text>
<line x1="190.2" y1="350.2" x2="190.2" y2="347.2" stroke="#333" stroke-width="1"/>
<text transform="translate(190.2,358.8) scale(1.07,1)" class="tk">250</text>
<line x1="217.1" y1="350.2" x2="217.1" y2="347.2" stroke="#333" stroke-width="1"/>
<text transform="translate(217.1,358.8) scale(1.07,1)" class="tk">300</text>
<rect x="56.0" y="227.4" width="157.1" height="18.4" fill="#191919"/>
<text transform="translate(53.8,240.5) scale(1.115,1)" class="bl">ctr ab</text>
<rect x="56.0" y="252.7" width="85.9" height="18.4" fill="#191919"/>
<text transform="translate(53.8,265.8) scale(1.115,1)" class="bl">mAb148</text>
<rect x="56.0" y="277.9" width="1.0" height="18.4" fill="#191919"/>
<text transform="translate(53.8,291.0) scale(1.115,1)" class="bl">@CD47</text>
<rect x="56.0" y="303.1" width="97.9" height="18.4" fill="#191919"/>
<text transform="translate(53.8,316.2) scale(1.115,1)" class="bl">LSB2.20</text>
<rect x="56.0" y="328.4" width="160.6" height="18.4" fill="#191919"/>
<text transform="translate(53.8,341.5) scale(1.115,1)" class="bl">LSB1.50</text>
<text transform="translate(132.8,380.3) scale(0.96,1)" class="mfi">MFI</text>
<line x1="286.5" y1="225.5" x2="286.5" y2="352.2" stroke="#333" stroke-width="1"/>
<line x1="286.0" y1="351.7" x2="447.8" y2="351.7" stroke="#333" stroke-width="1"/>
<line x1="286.2" y1="351.7" x2="286.2" y2="348.7" stroke="#333" stroke-width="1"/>
<text transform="translate(286.2,360.3) scale(1.07,1)" class="tk">0</text>
<line x1="318.4" y1="351.7" x2="318.4" y2="348.7" stroke="#333" stroke-width="1"/>
<text transform="translate(318.4,360.3) scale(1.07,1)" class="tk">300</text>
<line x1="350.6" y1="351.7" x2="350.6" y2="348.7" stroke="#333" stroke-width="1"/>
<text transform="translate(350.6,360.3) scale(1.07,1)" class="tk">600</text>
<line x1="382.9" y1="351.7" x2="382.9" y2="348.7" stroke="#333" stroke-width="1"/>
<text transform="translate(382.9,360.3) scale(1.07,1)" class="tk">900</text>
<line x1="415.1" y1="351.7" x2="415.1" y2="348.7" stroke="#333" stroke-width="1"/>
<text transform="translate(415.1,360.3) scale(1.07,1)" class="tk">1200</text>
<line x1="447.3" y1="351.7" x2="447.3" y2="348.7" stroke="#333" stroke-width="1"/>
<text transform="translate(447.3,360.3) scale(1.07,1)" class="tk">1500</text>
<rect x="287.0" y="228.9" width="156.9" height="18.4" fill="#191919"/>
<text transform="translate(284.8,240.5) scale(1.115,1)" class="bl">ctr ab</text>
<text transform="translate(284.8,265.8) scale(1.115,1)" class="bl">mAb148</text>
<rect x="287.0" y="279.4" width="4.8" height="18.4" fill="#191919"/>
<text transform="translate(284.8,291.0) scale(1.115,1)" class="bl">@CD47</text>
<rect x="287.0" y="304.6" width="150.9" height="18.4" fill="#191919"/>
<text transform="translate(284.8,316.2) scale(1.115,1)" class="bl">LSB2.20</text>
<rect x="287.0" y="329.9" width="155.5" height="18.4" fill="#191919"/>
<text transform="translate(284.8,341.5) scale(1.115,1)" class="bl">LSB1.50</text>
<text transform="translate(358.2,380.3) scale(0.96,1)" class="mfi">MFI</text>
<line x1="56" y1="287.5" x2="59.6" y2="287.5" stroke="#222" stroke-width="1"/>
<line x1="286.5" y1="263.5" x2="290.2" y2="263.5" stroke="#222" stroke-width="1"/>
</svg>
</body></html>
